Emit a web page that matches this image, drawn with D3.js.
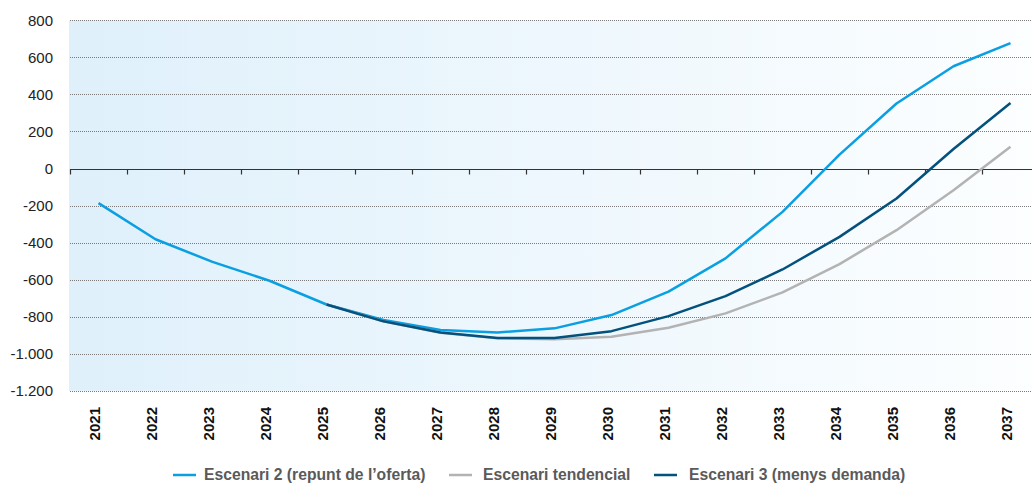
<!DOCTYPE html>
<html><head><meta charset="utf-8">
<script src="https://cdn.jsdelivr.net/npm/d3@7"></script>
<style>
html,body{margin:0;padding:0;background:#fff;}
svg{display:block;font-family:"Liberation Sans",Arial,Helvetica,sans-serif;}
</style></head>
<body>
<svg id="chart" width="1032" height="486"></svg>
<script>
const years = ["2021","2022","2023","2024","2025","2026","2027","2028","2029","2030","2031","2032","2033","2034","2035","2036","2037"];
const yTicks = [800,600,400,200,0,-200,-400,-600,-800,-1000,-1200];
const escenari2 = [-187,-382,-504,-606,-734,-818,-872,-885,-863,-791,-665,-485,-234,75,351,552,677];
const tendencial = [null,null,null,null,-734,-825,-887,-917,-922,-908,-860,-782,-669,-516,-333,-117,117];
const escenari3 = [null,null,null,null,-734,-825,-885,-915,-915,-878,-797,-689,-545,-369,-162,105,354];
const seriesNames = ["Escenari 2 (repunt de l\u2019oferta)","Escenari tendencial","Escenari 3 (menys demanda)"];
const seriesColors = ["#0a9fe0","#b3b3b3","#03517c"];

const W = 1032, H = 486;
const plotLeft = 70, plotTop = 20.3, plotBottom = 390.8;
const svg = d3.select("#chart");

const x = d3.scaleBand().domain(years).range([plotLeft, plotLeft + 57*years.length]).paddingInner(0).paddingOuter(0);
const y = d3.scaleLinear().domain([-1200, 800]).range([plotBottom, plotTop]);

// background gradient
const defs = svg.append("defs");
const grad = defs.append("linearGradient").attr("id","bg").attr("x1","0").attr("x2","1").attr("y1","0").attr("y2","0");
grad.append("stop").attr("offset","0%").attr("stop-color","#dff0fb");
grad.append("stop").attr("offset","100%").attr("stop-color","#fcfeff");
svg.append("rect").attr("x", plotLeft-1).attr("y", y(800)).attr("width", W-plotLeft+1).attr("height", y(-1200)-y(800)).attr("fill","url(#bg)");

// gridlines
svg.append("g").selectAll("line").data(yTicks.filter(d=>d!==0)).join("line")
  .attr("x1", plotLeft).attr("x2", W)
  .attr("y1", d=>Math.round(y(d))+0.5).attr("y2", d=>Math.round(y(d))+0.5)
  .attr("stroke","#7a7a7a").attr("stroke-width",1).attr("stroke-dasharray","1,1");

// y labels
const fmt = d => d3.format(",")(d).replace(/,/g,".").replace("\u2212","-");
svg.append("g").selectAll("text").data(yTicks).join("text")
  .attr("x", 53).attr("y", d=>y(d)).attr("dy","0.35em")
  .attr("text-anchor","end").attr("font-size","15px").attr("fill","#222")
  .text(d=>fmt(d));

// zero axis
const z = Math.round(y(0))+0.5;
svg.append("line").attr("x1",plotLeft).attr("x2",W).attr("y1",z).attr("y2",z).attr("stroke","#333").attr("stroke-width",1.2);
svg.append("g").selectAll("line").data(years).join("line")
  .attr("x1", d=>Math.round(x(d))+0.5).attr("x2", d=>Math.round(x(d))+0.5)
  .attr("y1", z).attr("y2", z+5).attr("stroke","#333").attr("stroke-width",1.2);

// x labels
svg.append("g").selectAll("text").data(years).join("text")
  .attr("transform", d=>`translate(${x(d)+x.bandwidth()/2+1.5},407) rotate(-90)`)
  .attr("text-anchor","end").attr("font-size","15px").attr("font-weight","bold").attr("fill","#111")
  .text(d=>d);

// lines
const line = d3.line().defined(d=>d!=null).x((d,i)=>x(years[i])+x.bandwidth()/2).y(d=>y(d));
[escenari2, tendencial, escenari3].forEach((s,i)=>{
  svg.append("path").datum(s).attr("d", line).attr("fill","none")
    .attr("stroke", seriesColors[i]).attr("stroke-width",2.5).attr("stroke-linejoin","round");
});

// legend
const legLineX = [173, 449, 654];
const legTextX = [204, 483, 689];
const lg = svg.append("g");
seriesNames.forEach((n,i)=>{
  lg.append("line").attr("x1",legLineX[i]).attr("x2",legLineX[i]+23).attr("y1",475).attr("y2",475)
    .attr("stroke",seriesColors[i]).attr("stroke-width",2.5);
  lg.append("text").attr("x",legTextX[i]).attr("y",475).attr("dy","0.35em")
    .attr("font-size","15.7px").attr("font-weight","bold").attr("fill","#5a5a5a").text(n);
});
</script>
</body></html>
